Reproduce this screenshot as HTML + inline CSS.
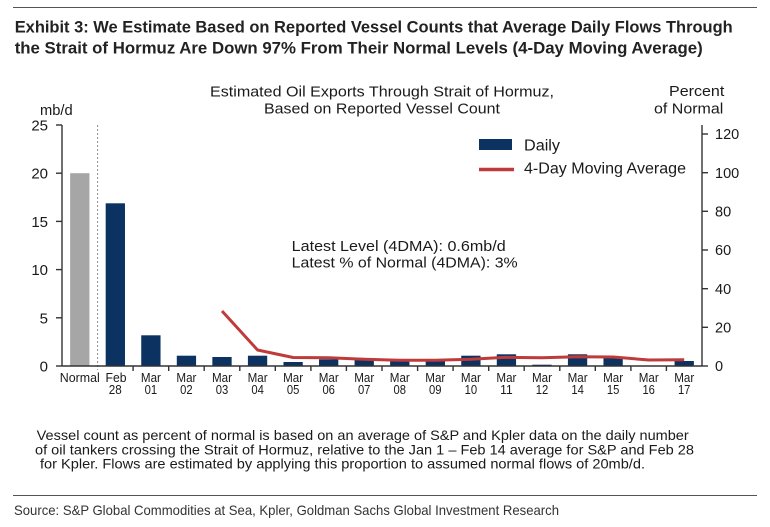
<!DOCTYPE html>
<html>
<head>
<meta charset="utf-8">
<style>
  html,body{margin:0;padding:0;background:#fff;}
  svg{display:block;}
  text{font-family:"Liberation Sans",Arial,sans-serif;}
</style>
</head>
<body>
<svg width="770" height="527" viewBox="0 0 770 527" xmlns="http://www.w3.org/2000/svg">
  <rect width="770" height="527" fill="#fff"/>
  <!-- top rule -->
  <line x1="13" y1="7.5" x2="757" y2="7.5" stroke="#555" stroke-width="1"/>
  <!-- title -->
  <text x="14.7" y="32.5" font-size="17" font-weight="bold" fill="#222" textLength="718" lengthAdjust="spacingAndGlyphs">Exhibit 3: We Estimate Based on Reported Vessel Counts that Average Daily Flows Through</text>
  <text x="14.7" y="53.5" font-size="17" font-weight="bold" fill="#222" textLength="688" lengthAdjust="spacingAndGlyphs">the Strait of Hormuz Are Down 97% From Their Normal Levels (4-Day Moving Average)</text>

  <!-- chart titles -->
  <text x="210" y="96.5" font-size="15" fill="#1a1a1a" textLength="344" lengthAdjust="spacingAndGlyphs">Estimated Oil Exports Through Strait of Hormuz,</text>
  <text x="264" y="113.3" font-size="15" fill="#1a1a1a" textLength="236" lengthAdjust="spacingAndGlyphs">Based on Reported Vessel Count</text>
  <text x="40" y="115" font-size="15" fill="#1a1a1a" textLength="32.7" lengthAdjust="spacingAndGlyphs">mb/d</text>
  <text x="669" y="96" font-size="15" fill="#1a1a1a" textLength="55.3" lengthAdjust="spacingAndGlyphs">Percent</text>
  <text x="654" y="113.3" font-size="15" fill="#1a1a1a" textLength="69.3" lengthAdjust="spacingAndGlyphs">of Normal</text>

  <!-- dashed separator -->
  <line x1="97.6" y1="125" x2="97.6" y2="370" stroke="#8a8a8a" stroke-width="1" stroke-dasharray="2,2"/>

  <!-- bars -->
  <g fill="#0b3260">
    <rect x="70.13" y="173.2" width="19.3" height="192.8" fill="#a6a6a6"/>
    <rect x="105.68" y="203.3" width="19.3" height="162.7"/>
    <rect x="141.24" y="335.3" width="19.3" height="30.7"/>
    <rect x="176.79" y="355.7" width="19.3" height="10.3"/>
    <rect x="212.35" y="357" width="19.3" height="9"/>
    <rect x="247.91" y="355.7" width="19.3" height="10.3"/>
    <rect x="283.46" y="362" width="19.3" height="4"/>
    <rect x="319.02" y="359.3" width="19.3" height="6.7"/>
    <rect x="354.57" y="360" width="19.3" height="6"/>
    <rect x="390.13" y="360.7" width="19.3" height="5.3"/>
    <rect x="425.68" y="361" width="19.3" height="5"/>
    <rect x="461.24" y="355.7" width="19.3" height="10.3"/>
    <rect x="496.79" y="354.3" width="19.3" height="11.7"/>
    <rect x="532.35" y="364.7" width="19.3" height="1.3"/>
    <rect x="567.91" y="354.3" width="19.3" height="11.7"/>
    <rect x="603.46" y="358" width="19.3" height="8"/>
    <rect x="674.57" y="361" width="19.3" height="5"/>
  </g>

  <!-- 4DMA line -->
  <polyline fill="none" stroke="#bf3b3b" stroke-width="3" stroke-linejoin="round"
    points="222,311 257.56,350 293.11,357.5 328.67,357.7 364.22,359.3 399.78,360.3 435.33,360.3 470.89,359.3 506.44,357.3 542,357.7 577.56,356.7 613.11,357 648.67,360 684.22,359.8"/>

  <!-- axes -->
  <g stroke="#333" stroke-width="1.4" fill="none">
    <line x1="62" y1="125" x2="62" y2="366"/>
    <line x1="702" y1="125" x2="702" y2="366"/>
    <line x1="62" y1="366" x2="702" y2="366"/>
    <!-- left ticks -->
    <line x1="56" y1="125" x2="62" y2="125"/>
    <line x1="56" y1="173.2" x2="62" y2="173.2"/>
    <line x1="56" y1="221.4" x2="62" y2="221.4"/>
    <line x1="56" y1="269.6" x2="62" y2="269.6"/>
    <line x1="56" y1="317.8" x2="62" y2="317.8"/>
    <line x1="56" y1="366" x2="62" y2="366"/>
    <!-- right ticks -->
    <line x1="702" y1="134" x2="708" y2="134"/>
    <line x1="702" y1="172.7" x2="708" y2="172.7"/>
    <line x1="702" y1="211.3" x2="708" y2="211.3"/>
    <line x1="702" y1="250" x2="708" y2="250"/>
    <line x1="702" y1="288.7" x2="708" y2="288.7"/>
    <line x1="702" y1="327.3" x2="708" y2="327.3"/>
    <line x1="702" y1="366" x2="708" y2="366"/>
    <!-- x ticks -->
    <line x1="133.1" y1="366" x2="133.1" y2="371"/>
    <line x1="168.7" y1="366" x2="168.7" y2="371"/>
    <line x1="204.2" y1="366" x2="204.2" y2="371"/>
    <line x1="239.8" y1="366" x2="239.8" y2="371"/>
    <line x1="275.3" y1="366" x2="275.3" y2="371"/>
    <line x1="310.9" y1="366" x2="310.9" y2="371"/>
    <line x1="346.4" y1="366" x2="346.4" y2="371"/>
    <line x1="382" y1="366" x2="382" y2="371"/>
    <line x1="417.6" y1="366" x2="417.6" y2="371"/>
    <line x1="453.1" y1="366" x2="453.1" y2="371"/>
    <line x1="488.7" y1="366" x2="488.7" y2="371"/>
    <line x1="524.2" y1="366" x2="524.2" y2="371"/>
    <line x1="559.8" y1="366" x2="559.8" y2="371"/>
    <line x1="595.3" y1="366" x2="595.3" y2="371"/>
    <line x1="630.9" y1="366" x2="630.9" y2="371"/>
    <line x1="666.4" y1="366" x2="666.4" y2="371"/>
  </g>

  <!-- left tick labels -->
  <g font-size="15" fill="#1a1a1a" text-anchor="end">
    <text x="48" y="130.5">25</text>
    <text x="48" y="178.7">20</text>
    <text x="48" y="226.9">15</text>
    <text x="48" y="275.1">10</text>
    <text x="48" y="323.3">5</text>
    <text x="48" y="371.5">0</text>
  </g>
  <!-- right tick labels -->
  <g font-size="14.5" fill="#1a1a1a">
    <text x="715" y="139.2">120</text>
    <text x="715" y="177.9">100</text>
    <text x="715" y="216.5">80</text>
    <text x="715" y="255.2">60</text>
    <text x="715" y="293.9">40</text>
    <text x="715" y="332.5">20</text>
    <text x="715" y="371.2">0</text>
  </g>

  <!-- x labels -->
  <g font-size="13" fill="#1a1a1a" text-anchor="middle">
    <text x="79.8" y="382" textLength="40" lengthAdjust="spacingAndGlyphs">Normal</text>
    <text x="116" y="382" textLength="21" lengthAdjust="spacingAndGlyphs">Feb</text>
    <text x="115.3" y="394" textLength="13" lengthAdjust="spacingAndGlyphs">28</text>
    <text x="150.9" y="382" textLength="20" lengthAdjust="spacingAndGlyphs">Mar</text><text x="150.9" y="394" textLength="12.5" lengthAdjust="spacingAndGlyphs">01</text>
    <text x="186.4" y="382" textLength="20" lengthAdjust="spacingAndGlyphs">Mar</text><text x="186.4" y="394" textLength="12.5" lengthAdjust="spacingAndGlyphs">02</text>
    <text x="222" y="382" textLength="20" lengthAdjust="spacingAndGlyphs">Mar</text><text x="222" y="394" textLength="12.5" lengthAdjust="spacingAndGlyphs">03</text>
    <text x="257.6" y="382" textLength="20" lengthAdjust="spacingAndGlyphs">Mar</text><text x="257.6" y="394" textLength="12.5" lengthAdjust="spacingAndGlyphs">04</text>
    <text x="293.1" y="382" textLength="20" lengthAdjust="spacingAndGlyphs">Mar</text><text x="293.1" y="394" textLength="12.5" lengthAdjust="spacingAndGlyphs">05</text>
    <text x="328.7" y="382" textLength="20" lengthAdjust="spacingAndGlyphs">Mar</text><text x="328.7" y="394" textLength="12.5" lengthAdjust="spacingAndGlyphs">06</text>
    <text x="364.2" y="382" textLength="20" lengthAdjust="spacingAndGlyphs">Mar</text><text x="364.2" y="394" textLength="12.5" lengthAdjust="spacingAndGlyphs">07</text>
    <text x="399.8" y="382" textLength="20" lengthAdjust="spacingAndGlyphs">Mar</text><text x="399.8" y="394" textLength="12.5" lengthAdjust="spacingAndGlyphs">08</text>
    <text x="435.3" y="382" textLength="20" lengthAdjust="spacingAndGlyphs">Mar</text><text x="435.3" y="394" textLength="12.5" lengthAdjust="spacingAndGlyphs">09</text>
    <text x="470.9" y="382" textLength="20" lengthAdjust="spacingAndGlyphs">Mar</text><text x="470.9" y="394" textLength="12.5" lengthAdjust="spacingAndGlyphs">10</text>
    <text x="506.4" y="382" textLength="20" lengthAdjust="spacingAndGlyphs">Mar</text><text x="506.4" y="394" textLength="12.5" lengthAdjust="spacingAndGlyphs">11</text>
    <text x="542" y="382" textLength="20" lengthAdjust="spacingAndGlyphs">Mar</text><text x="542" y="394" textLength="12.5" lengthAdjust="spacingAndGlyphs">12</text>
    <text x="577.6" y="382" textLength="20" lengthAdjust="spacingAndGlyphs">Mar</text><text x="577.6" y="394" textLength="12.5" lengthAdjust="spacingAndGlyphs">14</text>
    <text x="613.1" y="382" textLength="20" lengthAdjust="spacingAndGlyphs">Mar</text><text x="613.1" y="394" textLength="12.5" lengthAdjust="spacingAndGlyphs">15</text>
    <text x="648.7" y="382" textLength="20" lengthAdjust="spacingAndGlyphs">Mar</text><text x="648.7" y="394" textLength="12.5" lengthAdjust="spacingAndGlyphs">16</text>
    <text x="684.2" y="382" textLength="20" lengthAdjust="spacingAndGlyphs">Mar</text><text x="684.2" y="394" textLength="12.5" lengthAdjust="spacingAndGlyphs">17</text>
  </g>

  <!-- legend -->
  <rect x="479" y="139" width="33" height="11" fill="#0b3260"/>
  <text x="524" y="150.5" font-size="15.5" fill="#1a1a1a" textLength="36" lengthAdjust="spacingAndGlyphs">Daily</text>
  <line x1="479" y1="169.5" x2="514" y2="169.5" stroke="#bf3b3b" stroke-width="3.5"/>
  <text x="524" y="173.7" font-size="15.5" fill="#1a1a1a" textLength="162" lengthAdjust="spacingAndGlyphs">4-Day Moving Average</text>

  <!-- annotation -->
  <text x="291.7" y="251" font-size="15" fill="#1a1a1a" textLength="214" lengthAdjust="spacingAndGlyphs">Latest Level (4DMA): 0.6mb/d</text>
  <text x="291.7" y="267.5" font-size="15" fill="#1a1a1a" textLength="226" lengthAdjust="spacingAndGlyphs">Latest % of Normal (4DMA): 3%</text>

  <!-- notes -->
  <g font-size="14" fill="#1a1a1a">
    <text x="36.7" y="440" textLength="652" lengthAdjust="spacingAndGlyphs">Vessel count as percent of normal is based on an average of S&amp;P and Kpler data on the daily number</text>
    <text x="35" y="454.3" textLength="659" lengthAdjust="spacingAndGlyphs">of oil tankers crossing the Strait of Hormuz, relative to the Jan 1 – Feb 14 average for S&amp;P and Feb 28</text>
    <text x="40" y="468.3" textLength="605" lengthAdjust="spacingAndGlyphs">for Kpler. Flows are estimated by applying this proportion to assumed normal flows of 20mb/d.</text>
  </g>

  <!-- bottom rule -->
  <line x1="13" y1="495.5" x2="757" y2="495.5" stroke="#555" stroke-width="1"/>
  <text x="14" y="515" font-size="14" fill="#333" textLength="545" lengthAdjust="spacingAndGlyphs">Source: S&amp;P Global Commodities at Sea, Kpler, Goldman Sachs Global Investment Research</text>
</svg>
</body>
</html>
